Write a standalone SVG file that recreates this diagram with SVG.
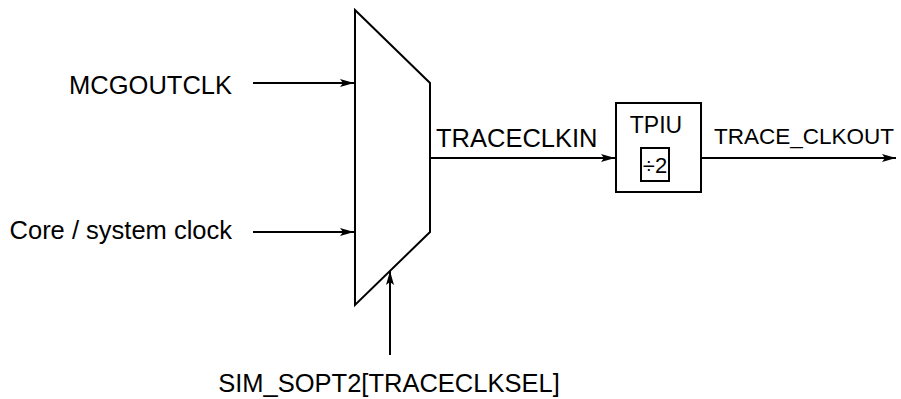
<svg xmlns="http://www.w3.org/2000/svg" width="901" height="399" viewBox="0 0 901 399">
<style>
.s{fill:none;stroke:#000;stroke-width:2}
.w{fill:#fff;stroke:#000;stroke-width:2}
.t{font-family:"Liberation Sans",Arial,sans-serif;fill:#000}
</style>
<defs>
<marker id="a" markerUnits="userSpaceOnUse" markerWidth="15" markerHeight="10" refX="14" refY="5" orient="auto">
<path d="M0,1 L14,5 L0,9 L3,5 Z" fill="#000"/>
</marker>
</defs>
<rect width="901" height="399" fill="#fff"/>
<g id="mux">
<polygon class="w" points="355,10 430,83 430,232 355,305"/>
</g>
<g id="tpiu">
<rect class="w" x="616" y="103" width="85" height="89"/>
<text class="t" x="656" y="133" font-size="23" text-anchor="middle">TPIU</text>
<rect class="w" x="641" y="148" width="28" height="33"/>
<text class="t" x="655" y="173" font-size="22" text-anchor="middle">÷2</text>
</g>
<g id="labels">
<text class="t" x="232" y="94" font-size="25.5" text-anchor="end">MCGOUTCLK</text>
<text class="t" x="232" y="239" font-size="25.5" text-anchor="end">Core / system clock</text>
<text class="t" x="389" y="392" font-size="25.5" text-anchor="middle">SIM_SOPT2[TRACECLKSEL]</text>
<text class="t" x="436" y="147" font-size="25.5">TRACECLKIN</text>
<text class="t" x="714" y="144" font-size="22.5">TRACE_CLKOUT</text>
</g>
<g id="connectors">
<line class="s" x1="253" y1="83" x2="354" y2="83" marker-end="url(#a)"/>
<line class="s" x1="253" y1="232" x2="354" y2="232" marker-end="url(#a)"/>
<line class="s" x1="390" y1="355" x2="390" y2="271" marker-end="url(#a)"/>
<line class="s" x1="430" y1="158" x2="615" y2="158" marker-end="url(#a)"/>
<line class="s" x1="701" y1="158" x2="896" y2="158" marker-end="url(#a)"/>
</g>
</svg>
